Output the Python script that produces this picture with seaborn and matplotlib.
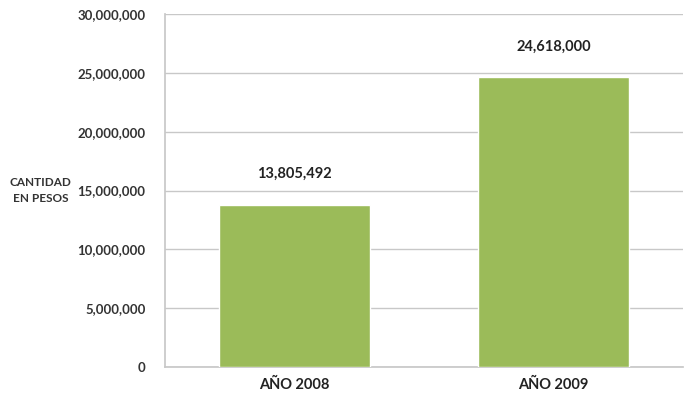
import matplotlib
matplotlib.use("Agg")
import matplotlib.pyplot as plt
import seaborn as sns
import pandas as pd
from matplotlib.ticker import FuncFormatter

# datos
categorias = ["AÑO 2008", "AÑO 2009"]
montos = [13805492, 24618000]
yticks = [0, 5000000, 10000000, 15000000, 20000000, 25000000, 30000000]

sns.set_theme(style="white")
plt.rcParams['font.family'] = ['Lato', 'DejaVu Sans']

df = pd.DataFrame({"anio": categorias, "monto": montos})

fig = plt.figure(figsize=(6.89, 4.04), dpi=100)
ax = fig.add_axes([0.2395, 0.0916, 0.752, 0.8734])

sns.barplot(data=df, x="anio", y="monto", color="#9BBB59", width=0.58,
            saturation=1, ax=ax, zorder=3)

ax.set_ylim(0, 30000000)
ax.set_yticks(yticks)
ax.yaxis.set_major_formatter(FuncFormatter(lambda v, p: f"{int(v):,}"))
ax.grid(axis='y', color='#c8c8c8', linewidth=1, zorder=0)
ax.set_axisbelow(True)

for s in ["top", "right"]:
    ax.spines[s].set_visible(False)
ax.spines["left"].set_color("#c8c8c8")
ax.spines["bottom"].set_color("#c8c8c8")

ax.tick_params(axis='y', length=0, pad=14, labelsize=9.5, labelcolor='#333333')
ax.tick_params(axis='x', length=0, pad=8, labelsize=10.5, labelcolor='#222222')
for lbl in ax.get_xticklabels() + ax.get_yticklabels():
    lbl.set_fontweight('bold')

ax.set_xlabel("")
ax.set_ylabel("CANTIDAD\nEN PESOS", rotation=0, fontsize=8.5, fontweight='bold',
              color='#333333', ha='center', va='center', linespacing=1.6)
ax.yaxis.set_label_coords(-0.24, 0.5)

for i, v in enumerate(montos):
    ax.annotate(f"{v:,}", (i, v), xytext=(0, 22), textcoords='offset points',
                ha='center', va='center', fontsize=10.5, fontweight='bold',
                color='#222222')

fig.savefig("out.png", dpi=100)
